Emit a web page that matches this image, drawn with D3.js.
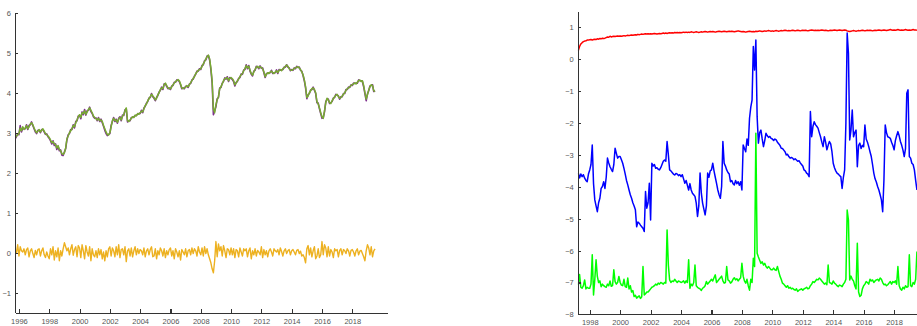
<!DOCTYPE html>
<html>
<head>
<meta charset="utf-8">
<script src="https://cdn.jsdelivr.net/npm/d3@7/dist/d3.min.js"></script>
<style>
  html, body { margin: 0; padding: 0; background: #fff; }
  svg { display: block; }
  .axis text { font-family: "Liberation Sans", Arial, sans-serif; font-size: 7.5px; fill: #555; }
  .axis path, .axis line { stroke: #333; stroke-width: 1.1px; shape-rendering: crispEdges; }
</style>
</head>
<body>
<svg id="chart" width="917" height="326"></svg>
<script>
// ---- Left panel: monthly series starting Oct 1995 ----
const leftStart = 1995.75;
const logLevelA = [ // purple
  2.85, 2.9, 2.97,
  2.95, 3.18, 3.02, 3.12, 3.1, 3.1, 3.2, 3.08, 3.18, 3.2, 3.27, 3.18,
  3.1, 3.02, 2.98, 3.06, 3.06, 3.0, 3.08, 3.08, 3.02, 2.96, 2.97, 2.9,
  2.86, 2.8, 2.72, 2.8, 2.68, 2.72, 2.58, 2.66, 2.55, 2.57, 2.44, 2.43,
  2.52, 2.6, 2.82, 2.95, 2.98, 3.08, 3.08, 3.2, 3.12, 3.28, 3.3, 3.42,
  3.43, 3.35, 3.52, 3.45, 3.58, 3.44, 3.55, 3.56, 3.64, 3.53, 3.48, 3.4,
  3.36, 3.37, 3.3, 3.38, 3.28, 3.34, 3.25, 3.16, 3.06, 2.98, 2.93, 2.96,
  2.98, 3.18, 3.28, 3.38, 3.28, 3.34, 3.24, 3.36, 3.4, 3.3, 3.44, 3.43,
  3.57, 3.6, 3.27, 3.3, 3.3, 3.38, 3.38, 3.4, 3.42, 3.44, 3.46, 3.48,
  3.48, 3.56, 3.5, 3.62, 3.66, 3.74, 3.78, 3.87, 3.88, 3.98, 3.9, 3.86,
  3.8, 3.88, 3.93, 4.02, 4.06, 4.14, 4.08, 4.22, 4.22, 4.16, 4.1, 4.12,
  4.08, 4.17, 4.18, 4.26, 4.26, 4.32, 4.31, 4.28, 4.2, 4.1, 4.12, 4.1,
  4.16, 4.16, 4.13, 4.22, 4.23, 4.32, 4.34, 4.42, 4.46, 4.54, 4.54, 4.6,
  4.58, 4.68, 4.7, 4.8, 4.82, 4.92, 4.93, 4.82, 4.58, 4.25, 3.45, 3.55,
  3.65, 3.85, 3.88, 4.12, 4.13, 4.24, 4.28, 4.37, 4.34, 4.4, 4.28, 4.38,
  4.36, 4.33, 4.28, 4.17, 4.26, 4.28, 4.36, 4.38, 4.47, 4.46, 4.57, 4.58,
  4.7, 4.6, 4.68, 4.54, 4.46, 4.42, 4.54, 4.56, 4.66, 4.64, 4.6, 4.67,
  4.61, 4.62, 4.5, 4.38, 4.48, 4.48, 4.5, 4.5, 4.56, 4.48, 4.5, 4.5,
  4.57, 4.48, 4.58, 4.56, 4.57, 4.58, 4.64, 4.64, 4.7, 4.64, 4.62, 4.55,
  4.58, 4.56, 4.62, 4.6, 4.66, 4.63, 4.64, 4.56, 4.54, 4.43, 4.3, 4.12,
  3.85, 3.95, 3.98, 4.07, 4.08, 4.14, 4.06, 3.98, 3.75, 3.74, 3.6, 3.48,
  3.36, 3.38, 3.52, 3.78, 3.84, 3.84, 3.73, 3.75, 3.78, 3.87, 3.88, 3.96,
  3.94, 3.92, 3.84, 3.9, 3.9, 3.98, 3.98, 4.08, 4.08, 4.14, 4.13, 4.2,
  4.18, 4.24, 4.23, 4.24, 4.24, 4.32, 4.3, 4.3, 4.28, 4.15, 3.98, 3.8,
  3.97, 4.05, 4.17, 4.18, 4.2, 4.03, 4.05
];
const logLevelB = [ // green
  2.87, 2.92, 2.95,
  2.98, 3.12, 3.05, 3.15, 3.08, 3.12, 3.18, 3.1, 3.15, 3.22, 3.25, 3.2,
  3.12, 3.05, 3.0, 3.04, 3.08, 3.02, 3.06, 3.1, 3.04, 2.98, 2.95, 2.92,
  2.88, 2.82, 2.75, 2.78, 2.72, 2.7, 2.62, 2.68, 2.58, 2.55, 2.48, 2.46,
  2.5, 2.62, 2.85, 2.92, 3.0, 3.05, 3.1, 3.18, 3.15, 3.25, 3.32, 3.4,
  3.45, 3.38, 3.5, 3.48, 3.55, 3.46, 3.52, 3.58, 3.62, 3.56, 3.5, 3.42,
  3.38, 3.35, 3.32, 3.36, 3.3, 3.32, 3.28, 3.18, 3.1, 3.02, 2.96, 2.94,
  3.0, 3.15, 3.3, 3.36, 3.3, 3.32, 3.26, 3.34, 3.38, 3.32, 3.42, 3.45,
  3.55, 3.62, 3.3, 3.28, 3.32, 3.36, 3.4, 3.38, 3.44, 3.42, 3.48, 3.46,
  3.5, 3.54, 3.52, 3.6, 3.68, 3.72, 3.8, 3.85, 3.9, 3.96, 3.92, 3.88,
  3.82, 3.86, 3.95, 4.0, 4.08, 4.12, 4.1, 4.2, 4.24, 4.18, 4.12, 4.1,
  4.1, 4.15, 4.2, 4.24, 4.28, 4.3, 4.33, 4.3, 4.22, 4.12, 4.1, 4.12,
  4.14, 4.18, 4.15, 4.2, 4.25, 4.3, 4.36, 4.4, 4.48, 4.52, 4.56, 4.58,
  4.6, 4.66, 4.72, 4.78, 4.84, 4.9, 4.94, 4.85, 4.62, 4.3, 3.6, 3.5,
  3.7, 3.82, 3.9, 4.1, 4.15, 4.22, 4.3, 4.35, 4.36, 4.38, 4.3, 4.36,
  4.38, 4.35, 4.3, 4.2, 4.24, 4.3, 4.34, 4.4, 4.45, 4.48, 4.55, 4.6,
  4.68, 4.62, 4.66, 4.56, 4.48, 4.44, 4.52, 4.58, 4.64, 4.66, 4.62, 4.65,
  4.63, 4.6, 4.52, 4.4, 4.46, 4.5, 4.48, 4.52, 4.54, 4.5, 4.48, 4.52,
  4.55, 4.5, 4.56, 4.58, 4.55, 4.6, 4.62, 4.66, 4.69, 4.66, 4.6, 4.57,
  4.56, 4.58, 4.6, 4.62, 4.64, 4.65, 4.62, 4.58, 4.52, 4.45, 4.32, 4.15,
  3.88, 3.92, 4.0, 4.05, 4.1, 4.12, 4.08, 4.0, 3.78, 3.72, 3.62, 3.5,
  3.4, 3.36, 3.55, 3.75, 3.86, 3.82, 3.75, 3.73, 3.8, 3.85, 3.9, 3.94,
  3.96, 3.9, 3.86, 3.88, 3.92, 3.96, 4.0, 4.06, 4.1, 4.12, 4.15, 4.18,
  4.2, 4.22, 4.25, 4.22, 4.26, 4.3, 4.32, 4.28, 4.3, 4.18, 4.0, 3.84,
  3.95, 4.07, 4.15, 4.2, 4.18, 4.05, 4.03
];
const returnsSeries = [ // orange
  0.05, 0.0, 0.2,
  -0.08, 0.15, 0.05, 0.02, 0.1, -0.05, 0.08, 0.12, -0.1, 0.05, 0.1, -0.02,
  -0.12, 0.06, -0.05, 0.08, 0.1, -0.08, 0.05, 0.12, -0.05, -0.12, 0.02, -0.08,
  -0.15, 0.1, -0.05, 0.15, -0.18, 0.05, -0.1, 0.12, -0.2, 0.05, -0.08, 0.1,
  0.25, 0.15, 0.05, 0.12, -0.05, 0.1, 0.2, -0.06, 0.08, 0.15, -0.1, 0.18,
  0.12, -0.12, 0.2, 0.05, -0.15, 0.18, 0.02, -0.08, 0.15, -0.2, 0.1, -0.05,
  -0.1, 0.05, -0.12, 0.1, -0.05, 0.08, -0.15, 0.02, -0.2, 0.05, -0.1, 0.1,
  0.15, -0.08, 0.12, 0.05, -0.1, 0.15, -0.05, 0.2, -0.12, 0.08, 0.1, -0.05,
  0.15, -0.22, 0.05, 0.1, -0.08, 0.12, -0.1, 0.05, 0.15, -0.05, 0.1, -0.02,
  0.08, 0.05, -0.05, 0.12, -0.1, 0.05, 0.1, -0.05, 0.08, 0.15, -0.1, -0.08,
  0.1, -0.15, 0.05, -0.05, 0.12, 0.05, -0.08, 0.1, -0.12, 0.05, -0.05, 0.08,
  0.12, -0.08, 0.05, -0.15, 0.1, 0.02, -0.1, 0.05, -0.18, 0.08, 0.02, -0.05,
  0.1, -0.1, 0.05, 0.08, -0.05, 0.12, -0.02, 0.1, 0.05, -0.08, 0.15, 0.02,
  -0.05, 0.12, -0.08, 0.15, -0.02, 0.1, -0.05, -0.15, -0.25, -0.4, -0.5, -0.2,
  0.28, -0.1, 0.22, 0.05, 0.15, -0.08, 0.18, 0.05, -0.12, 0.1, 0.08, -0.05,
  0.12, -0.05, 0.1, -0.12, 0.08, 0.05, -0.1, 0.12, 0.02, -0.08, 0.1, 0.05,
  0.1, -0.1, 0.05, 0.12, -0.15, 0.05, -0.05, 0.1, -0.08, 0.06, 0.02, -0.05,
  0.15, -0.12, 0.08, -0.05, 0.05, -0.1, 0.05, 0.1, 0.02, -0.08, 0.1, 0.05,
  0.02, 0.08, -0.05, 0.12, 0.03, -0.08, 0.05, 0.1, -0.02, 0.05, 0.08, -0.05,
  0.05, 0.08, 0.02, -0.05, 0.06, 0.08, -0.02, 0.04, -0.08, -0.05, -0.12, -0.25,
  0.1, 0.18, -0.05, 0.12, -0.1, 0.05, 0.15, -0.15, -0.08, 0.1, -0.12, -0.05,
  0.28, -0.05, 0.2, 0.12, -0.1, 0.15, -0.08, 0.08, 0.02, -0.12, 0.1, 0.05,
  0.08, -0.1, 0.06, 0.1, -0.05, 0.08, 0.05, -0.02, 0.1, 0.05, -0.08, 0.06,
  0.08, 0.02, -0.08, 0.05, 0.1, -0.05, 0.04, 0.06, -0.02, -0.1, -0.2, 0.05,
  0.2, 0.12, -0.05, 0.15, -0.1, 0.05, 0.1
];

// ---- Right panel: monthly series starting Apr 1997 ----
const rightStart = 1997.25;
const persistence = [ // red
  0.27, 0.4, 0.48, 0.52, 0.55, 0.57, 0.58, 0.6, 0.6,
  0.61, 0.62, 0.6, 0.62, 0.63, 0.62, 0.64, 0.63, 0.65, 0.64, 0.66, 0.65,
  0.66, 0.68, 0.7, 0.69, 0.72, 0.7, 0.71, 0.72, 0.71, 0.72, 0.73, 0.72,
  0.73, 0.72, 0.73, 0.74, 0.73, 0.74, 0.75, 0.74, 0.75, 0.76, 0.75, 0.76,
  0.77, 0.76, 0.78, 0.77, 0.78, 0.79, 0.78, 0.79, 0.8, 0.79, 0.8, 0.79,
  0.8, 0.79, 0.8, 0.81, 0.8, 0.79, 0.8, 0.81, 0.8, 0.81, 0.82, 0.81,
  0.82, 0.81, 0.82, 0.83, 0.82, 0.83, 0.82, 0.84, 0.83, 0.84, 0.83, 0.84,
  0.83, 0.84, 0.85, 0.84, 0.85, 0.84, 0.85, 0.84, 0.86, 0.85, 0.84, 0.85,
  0.86, 0.85, 0.84, 0.85, 0.86, 0.85, 0.86, 0.87, 0.86, 0.85, 0.86, 0.87,
  0.86, 0.87, 0.86, 0.85, 0.86, 0.87, 0.88, 0.87, 0.86, 0.87, 0.88, 0.87,
  0.86, 0.87, 0.88, 0.87, 0.88, 0.87, 0.86, 0.87, 0.88, 0.89, 0.88, 0.87,
  0.86, 0.87, 0.86, 0.85, 0.86, 0.87, 0.88, 0.87, 0.86, 0.87, 0.86, 0.88,
  0.87, 0.88, 0.89, 0.88, 0.87, 0.88, 0.89, 0.88, 0.89, 0.9, 0.89, 0.88,
  0.89, 0.88, 0.89, 0.9, 0.89, 0.88, 0.89, 0.9, 0.89, 0.9, 0.91, 0.9,
  0.89, 0.9, 0.89, 0.9, 0.91, 0.9, 0.89, 0.9, 0.91, 0.9, 0.89, 0.9,
  0.91, 0.9, 0.91, 0.9, 0.89, 0.9, 0.91, 0.92, 0.91, 0.9, 0.91, 0.9,
  0.91, 0.9, 0.91, 0.92, 0.91, 0.9, 0.91, 0.9, 0.89, 0.9, 0.91, 0.9,
  0.91, 0.92, 0.91, 0.9, 0.91, 0.92, 0.91, 0.9, 0.91, 0.92, 0.91, 0.89,
  0.88, 0.87, 0.88, 0.89, 0.9, 0.89, 0.88, 0.89, 0.9, 0.89, 0.9, 0.91,
  0.9, 0.89, 0.9, 0.91, 0.9, 0.91, 0.9, 0.89, 0.9, 0.91, 0.9, 0.91,
  0.92, 0.91, 0.9, 0.91, 0.92, 0.91, 0.9, 0.91, 0.92, 0.93, 0.92, 0.91,
  0.92, 0.91, 0.92, 0.93, 0.92, 0.91, 0.92, 0.91, 0.92, 0.93, 0.92, 0.91,
  0.92, 0.91, 0.92, 0.93, 0.92, 0.92, 0.91
];
const logVolatility = [ // blue
  -3.57, -3.72, -3.6, -3.68, -3.62, -3.73, -3.8, -3.84, -3.6,
  -3.47, -3.3, -2.69, -3.9, -4.41, -4.6, -4.78, -4.5, -4.36, -4.05, -3.99, -3.84,
  -4.05, -3.7, -3.1, -3.25, -3.37, -3.45, -3.52, -3.3, -2.79, -2.95, -3.1, -3.05,
  -3.05, -3.15, -3.26, -3.42, -3.6, -3.8, -3.94, -4.1, -4.25, -4.36, -4.5, -4.6,
  -4.72, -5.25, -5.1, -5.14, -5.2, -5.25, -5.3, -5.4, -4.15, -4.67, -4.5, -3.89,
  -5.04, -3.26, -3.35, -3.3, -3.42, -3.4, -3.45, -3.47, -3.4, -3.3, -3.2, -3.16,
  -3.2, -2.58, -3.0, -3.47, -3.5, -3.55, -3.6, -3.63, -3.58, -3.6, -3.65, -3.62,
  -3.68, -3.62, -3.75, -3.89, -3.8, -3.95, -4.1, -3.9, -4.1, -4.2, -4.25, -4.3,
  -4.51, -4.93, -4.6, -3.57, -4.2, -4.51, -4.7, -4.88, -4.6, -3.57, -3.7, -3.5,
  -3.47, -3.26, -3.5, -3.7, -3.89, -4.1, -4.25, -4.36, -3.99, -2.58, -3.26, -3.35,
  -3.47, -3.55, -3.6, -3.84, -3.8, -3.9, -3.94, -3.8, -3.9, -3.84, -3.95, -3.84,
  -4.1, -2.69, -2.8, -2.9, -2.5, -2.7, -1.85, -1.5, -1.28, 0.4, -0.34, 0.6,
  -1.8, -2.63, -2.3, -2.22, -2.5, -2.74, -2.55, -2.32, -2.4, -2.45, -2.42, -2.48,
  -2.5, -2.55, -2.5, -2.53, -2.6, -2.65, -2.7, -2.79, -2.8, -2.85, -2.9, -3.0,
  -2.98, -3.05, -3.1, -3.08, -3.1, -3.15, -3.12, -3.16, -3.2, -3.18, -3.25, -3.3,
  -3.35, -3.47, -3.5, -3.57, -3.6, -3.68, -1.64, -2.43, -2.11, -1.96, -2.05, -2.1,
  -2.16, -2.3, -2.43, -2.6, -2.74, -2.43, -2.6, -2.84, -2.7, -2.58, -2.65, -2.9,
  -3.26, -3.4, -3.5, -3.57, -3.6, -3.65, -3.68, -4.05, -3.7, -3.47, -2.0, 0.82,
  0.19, -2.53, -2.22, -1.59, -2.43, -2.3, -2.22, -3.37, -2.7, -2.63, -2.8, -2.7,
  -2.74, -2.06, -2.5, -2.6, -2.74, -2.9, -3.05, -3.3, -3.57, -3.75, -3.85, -3.99,
  -4.1, -4.25, -4.41, -4.78, -3.78, -2.06, -2.3, -2.43, -2.45, -2.48, -2.6, -2.7,
  -2.84, -2.55, -2.4, -2.27, -2.4, -2.58, -2.7, -2.85, -3.05, -2.8, -1.07, -0.96,
  -3.05, -3.1, -3.26, -3.3, -3.47, -3.8, -4.1
];
const jumpIntensity = [ // green
  -7.07, -6.75, -7.15, -7.18, -7.1, -6.92, -7.2, -7.15, -7.18,
  -7.18, -7.05, -6.13, -7.39, -6.9, -6.29, -6.81, -7.0, -6.95, -7.13, -7.05, -7.1,
  -7.13, -7.15, -7.05, -7.1, -6.95, -7.12, -7.1, -6.6, -6.97, -7.05, -7.0, -6.81,
  -7.0, -7.08, -7.1, -6.9, -7.13, -7.15, -6.86, -7.2, -7.1, -7.3, -7.25, -7.44,
  -7.4, -7.49, -7.45, -7.42, -7.5, -7.45, -6.5, -7.39, -7.35, -7.3, -7.3, -7.25,
  -7.2, -7.15, -7.13, -7.1, -7.05, -7.08, -7.02, -7.05, -7.0, -7.02, -7.05, -7.0,
  -7.02, -5.35, -6.45, -6.92, -7.0, -6.95, -6.97, -6.9, -6.95, -7.0, -6.95, -6.97,
  -7.0, -6.98, -6.95, -7.02, -6.95, -7.0, -6.29, -7.18, -7.05, -7.1, -7.0, -6.45,
  -7.1, -7.15, -7.18, -7.2, -7.25, -7.18, -7.15, -7.1, -6.97, -7.05, -7.0, -6.95,
  -6.9, -6.95, -6.85, -6.76, -7.0, -6.95, -6.9, -6.85, -6.8, -6.95, -7.02, -7.0,
  -6.5, -6.92, -6.95, -7.02, -6.98, -6.9, -6.85, -6.92, -6.88, -6.95, -6.9, -6.85,
  -6.4, -6.8, -6.95, -7.02, -6.9, -7.1, -7.24, -6.9, -7.0, -6.24, -6.5, -2.32,
  -6.08, -6.2, -6.3, -6.4, -6.35, -6.45, -6.4, -6.5, -6.55, -6.5, -6.55, -6.6,
  -6.6, -6.55, -6.6, -6.62, -6.5, -6.65, -6.8, -6.9, -7.02, -7.05, -7.1, -7.15,
  -7.1, -7.18, -7.15, -7.2, -7.18, -7.22, -7.24, -7.2, -7.28, -7.24, -7.22, -7.2,
  -7.24, -7.2, -7.18, -7.15, -7.2, -7.18, -7.1, -7.05, -6.97, -7.0, -6.95, -6.9,
  -6.92, -6.86, -6.9, -6.95, -7.0, -7.05, -7.02, -7.07, -6.45, -7.0, -7.02, -7.05,
  -6.95, -7.02, -7.05, -7.1, -7.13, -7.08, -7.1, -7.13, -7.05, -7.0, -6.9, -4.73,
  -5.04, -6.92, -6.8, -6.9, -6.95, -7.1, -7.2, -5.77, -7.3, -7.44, -7.4, -7.2,
  -7.1, -7.05, -6.97, -7.0, -7.05, -6.9, -6.95, -6.92, -7.0, -6.95, -6.92, -6.9,
  -6.95, -6.86, -6.9, -7.0, -7.07, -7.05, -7.1, -7.07, -7.02, -6.97, -7.05, -6.97,
  -7.0, -6.95, -7.05, -6.5, -7.1, -7.2, -7.24, -7.15, -7.2, -7.1, -7.15, -7.13,
  -6.13, -7.1, -7.13, -7.0, -7.05, -6.9, -6.03
];

// ---- Tick values ----
const leftXTicks = [1996, 1998, 2000, 2002, 2004, 2006, 2008, 2010, 2012, 2014, 2016, 2018];
const rightXTicks = [1998, 2000, 2002, 2004, 2006, 2008, 2010, 2012, 2014, 2016, 2018];
const leftYTicks = [-1, 0, 1, 2, 3, 4, 5, 6];
const rightYTicks = [-8, -7, -6, -5, -4, -3, -2, -1, 0, 1];

const svg = d3.select("#chart");

function monthly(values, start) {
  return values.map((v, i) => ({ t: start + i / 12, v }));
}

function drawPanel(cfg) {
  const g = svg.append("g");
  const x = d3.scaleLinear().domain(cfg.xDomain).range(cfg.xRange);
  const y = d3.scaleLinear().domain(cfg.yDomain).range(cfg.yRange);

  const clipId = cfg.id + "-clip";
  svg.append("clipPath").attr("id", clipId)
    .append("rect")
    .attr("x", cfg.xRange[0]).attr("y", cfg.yRange[1] - 2)
    .attr("width", cfg.xRange[1] - cfg.xRange[0])
    .attr("height", cfg.yRange[0] - cfg.yRange[1] + 2);

  const line = d3.line().x(d => x(d.t)).y(d => y(d.v));
  const plot = g.append("g").attr("clip-path", `url(#${clipId})`);
  cfg.series.forEach(s => {
    plot.append("path")
      .datum(monthly(s.values, cfg.start))
      .attr("fill", "none")
      .attr("stroke", s.color)
      .attr("stroke-width", s.width)
      .attr("stroke-linejoin", "round")
      .attr("d", line);
  });

  const xAxis = d3.axisBottom(x).tickValues(cfg.xTicks).tickFormat(d3.format("d"))
    .tickSizeInner(-4).tickSizeOuter(0).tickPadding(5.5);
  g.append("g").attr("class", "axis")
    .attr("transform", `translate(0,${cfg.yRange[0]})`)
    .call(xAxis);

  const yAxis = d3.axisLeft(y).tickValues(cfg.yTicks).tickFormat(d3.format("d"))
    .tickSizeInner(-3).tickSizeOuter(0).tickPadding(4);
  g.append("g").attr("class", "axis")
    .attr("transform", `translate(${cfg.xRange[0]},0)`)
    .call(yAxis);
}

drawPanel({
  id: "left",
  start: leftStart,
  xDomain: [1995.74, 2020.31], xRange: [15, 387.3],
  yDomain: [-1.5, 6], yRange: [312.8, 12.7],
  xTicks: leftXTicks, yTicks: leftYTicks,
  series: [
    { values: logLevelA, color: "#7e2f8e", width: 1.6 },
    { values: logLevelB, color: "#77ac30", width: 1.5 },
    { values: returnsSeries, color: "#edb120", width: 1.4 }
  ]
});

drawPanel({
  id: "right",
  start: rightStart,
  xDomain: [1997.21, 2020.3], xRange: [577.7, 929.1],
  yDomain: [-8, 1.5], yRange: [314.4, 11.4],
  xTicks: rightXTicks, yTicks: rightYTicks,
  series: [
    { values: persistence, color: "#ff0000", width: 1.5 },
    { values: logVolatility, color: "#0000ff", width: 1.5 },
    { values: jumpIntensity, color: "#00ff00", width: 1.5 }
  ]
});
</script>
</body>
</html>
